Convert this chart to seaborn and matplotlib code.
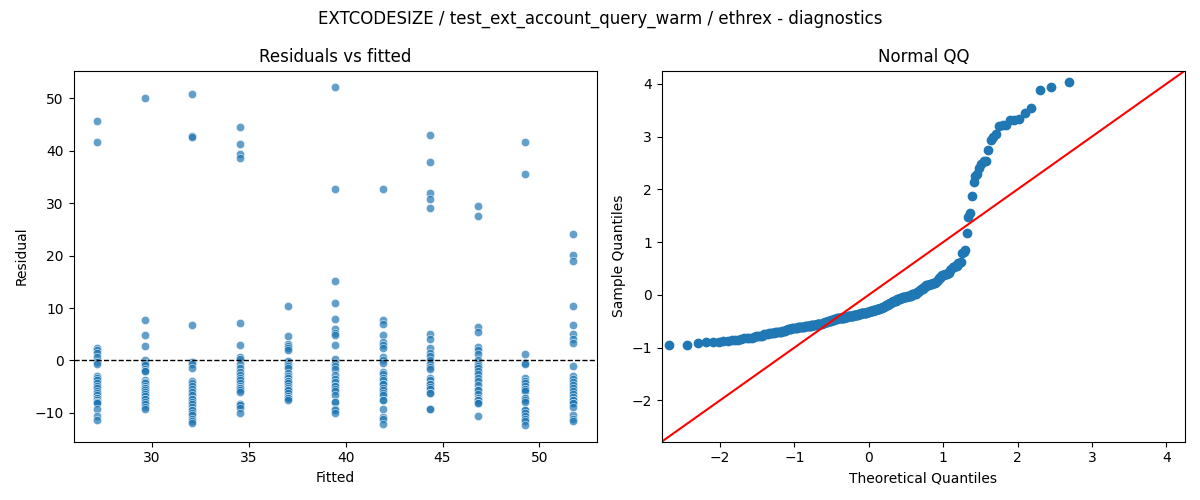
import numpy as np
import pandas as pd
import matplotlib
matplotlib.use("Agg")
import matplotlib.pyplot as plt
import seaborn as sns
from statistics import NormalDist

# Fitted values (one per group), read from the x positions of the columns
fitted_levels = [27.18, 29.64, 32.09, 34.55, 37.01, 39.46, 41.92, 44.37, 46.83, 49.28, 51.74]

# Residuals per fitted level (overlapping markers counted as repeats)
res_g1 = [45.7, 41.6, 2.4, 2.0, 1.5, 0.6, -0.3, -0.6, -3.0, -3.4, -3.8, -4.4, -4.9, -5.3,
          -5.8, -6.2, -6.6, -7.1, -7.1, -7.5, -8.0, -8.0, -8.2, -9.3, -10.6, -11.3]
res_g2 = [50.0, 7.7, 4.8, 2.7, 0.1, -0.4, -0.9, -1.6, -2.0, -2.1, -3.8, -4.2, -4.4, -4.9,
          -5.3, -5.3, -5.6, -6.0, -6.4, -6.8, -7.4, -7.4, -7.9, -8.3, -8.9, -9.3]
res_g3 = [50.8, 42.8, 42.7, 6.7, -0.3, -0.7, -1.5, -3.9, -4.4, -4.9, -5.4, -6.0, -6.6,
          -7.3, -7.3, -7.9, -8.3, -8.9, -9.5, -9.5, -10.1, -10.5, -11.1, -11.5, -11.9]
res_g4 = [44.5, 41.4, 39.4, 38.7, 7.1, 2.9, 0.7, 0.2, -0.6, -1.5, -2.2, -2.8, -3.3, -3.8,
          -4.4, -4.8, -5.2, -5.2, -5.7, -6.0, -8.3, -8.3, -8.6, -9.0, -10.0]
res_g5 = [10.3, 4.6, 3.2, 2.7, 2.3, 1.9, -0.2, -0.6, -1.0, -1.5, -2.4, -3.0, -3.3, -3.9,
          -4.0, -4.4, -4.8, -5.2, -5.6, -5.6, -6.3, -6.8, -7.1, -7.1, -7.5]
res_g6 = [52.1, 32.8, 15.1, 11.0, 7.9, 6.0, 5.2, 4.8, 2.9, 0.2, -0.4, -1.0, -1.7, -2.8,
          -3.5, -4.1, -4.9, -4.9, -5.4, -5.8, -6.6, -7.9, -7.9, -9.2, -9.5, -10.1]
res_g7 = [32.8, 7.8, 7.0, 4.8, 3.6, 2.9, 2.3, 0.7, 0.1, -0.5, -2.2, -2.6, -3.3, -3.8,
          -4.5, -4.5, -5.2, -5.7, -6.2, -6.6, -7.6, -7.6, -9.2, -10.8, -11.1, -12.2]
res_g8 = [43.1, 37.8, 31.9, 30.9, 29.0, 5.1, 4.0, 2.3, 1.4, 0.8, 0.1, -0.6, -1.2, -1.7,
          -3.3, -3.8, -4.5, -4.5, -5.0, -5.5, -6.2, -6.2, -9.2, -9.2]
res_g9 = [29.5, 27.5, 6.3, 5.4, 2.6, 2.0, 1.2, 0.1, -0.6, -1.0, -1.5, -2.0, -2.6, -3.4,
          -3.9, -4.7, -5.7, -5.7, -6.4, -7.1, -7.6, -7.6, -8.2, -8.2, -10.6]
res_g10 = [41.6, 35.5, 1.3, -0.4, -0.7, -3.4, -3.9, -4.3, -4.9, -5.5, -5.5, -5.9, -7.1,
           -7.1, -7.6, -8.0, -9.4, -9.4, -10.0, -10.6, -11.2, -11.6, -12.3]
res_g11 = [24.2, 20.1, 19.0, 10.4, 6.7, 5.0, 4.0, 3.4, -1.0, -3.0, -3.6, -4.1, -4.7, -5.2,
           -5.8, -6.4, -7.0, -7.6, -7.6, -8.2, -8.2, -8.8, -10.4, -11.1, -11.5]

residual_groups = [res_g1, res_g2, res_g3, res_g4, res_g5, res_g6, res_g7, res_g8,
                   res_g9, res_g10, res_g11]

title_text = "EXTCODESIZE / test_ext_account_query_warm / ethrex - diagnostics"

rows = []
for f, grp in zip(fitted_levels, residual_groups):
    for r in grp:
        rows.append({"Fitted": f, "Residual": r})
df = pd.DataFrame(rows)

# Normal QQ: standardized residuals vs normal quantiles (plotting positions i/(n+1))
resid = df["Residual"].to_numpy()
n = len(resid)
sample_q = np.sort((resid - resid.mean()) / resid.std())
nd = NormalDist()
theo_q = np.array([nd.inv_cdf(i / (n + 1)) for i in range(1, n + 1)])
qq = pd.DataFrame({"Theoretical Quantiles": theo_q, "Sample Quantiles": sample_q})

fig, axes = plt.subplots(1, 2, figsize=(12, 5), dpi=100)

ax = axes[0]
sns.scatterplot(data=df, x="Fitted", y="Residual", ax=ax, alpha=0.7, color="#1f77b4")
ax.axhline(0, color="black", linestyle="--", linewidth=1)
ax.set_title("Residuals vs fitted")

ax2 = axes[1]
ax2.plot(qq["Theoretical Quantiles"], qq["Sample Quantiles"], marker="o",
         linestyle="none", color="#1f77b4", markersize=6)
lims = (-2.785, 4.25)
ax2.plot(lims, lims, color="red", linewidth=1.5)
ax2.set_xlim(lims)
ax2.set_ylim(lims)
ax2.set_xlabel("Theoretical Quantiles")
ax2.set_ylabel("Sample Quantiles")
ax2.set_title("Normal QQ")

fig.suptitle(title_text)
fig.tight_layout()
fig.savefig("out.png", dpi=100)
